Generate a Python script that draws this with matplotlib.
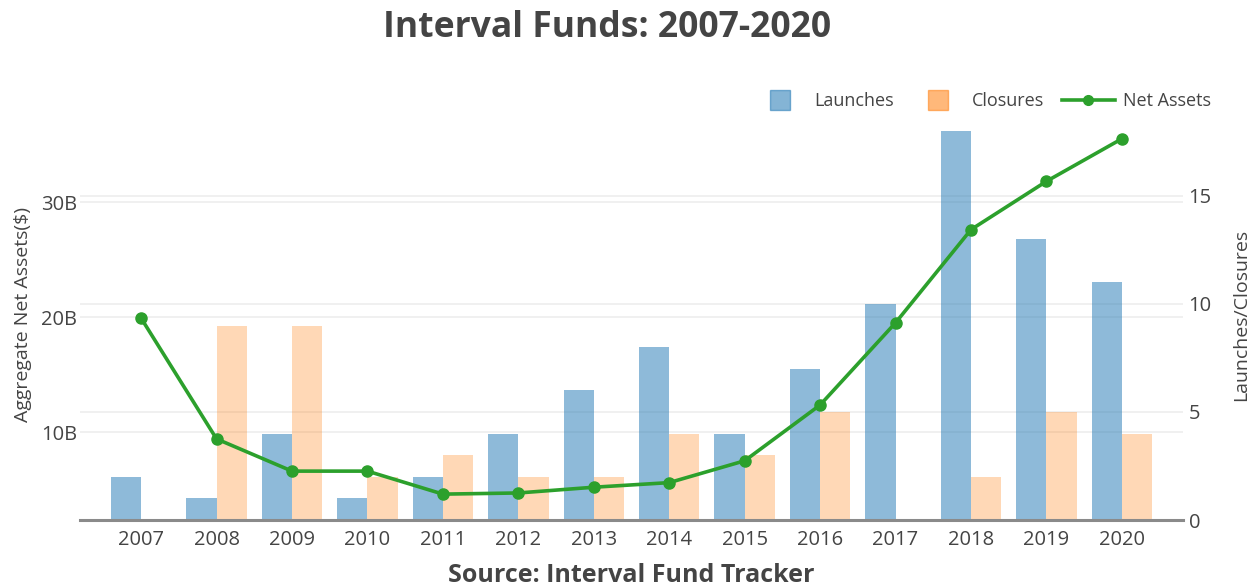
import matplotlib
matplotlib.use("Agg")
import matplotlib.pyplot as plt
from matplotlib.lines import Line2D
import numpy as np

plt.rcParams['font.family'] = ['Open Sans', 'DejaVu Sans']

# Data
years = ['2007', '2008', '2009', '2010', '2011', '2012', '2013',
         '2014', '2015', '2016', '2017', '2018', '2019', '2020']
launches = [2, 1, 4, 1, 2, 4, 6, 8, 4, 7, 10, 18, 13, 11]
closures = [0, 9, 9, 2, 3, 2, 2, 4, 3, 5, 0, 2, 5, 4]
net_assets_b = [19.9, 9.4, 6.6, 6.6, 4.6, 4.7, 5.2, 5.6, 7.5, 12.35,
                19.5, 27.6, 31.8, 35.5]
left_ticks = [10, 20, 30]
left_ticklabels = ['10B', '20B', '30B']
right_ticks = [0, 5, 10, 15]

W, H = 1258, 587
fig = plt.figure(figsize=(W / 100, H / 100), dpi=100)
px_l, px_r, px_t, px_b = 80, 1183, 110, 520
ax = fig.add_axes([px_l / W, (H - px_b) / H, (px_r - px_l) / W, (px_b - px_t) / H])
ax2 = ax.twinx()

text_color = '#444444'
blue = '#1f77b4'
orange = '#ff7f0e'
green = '#2ca02c'
grid_color = '#eeeeee'

x = np.arange(len(years))
bw = 0.4
ax.bar(x - bw / 2, launches, width=bw, color=blue, alpha=0.5, linewidth=0, zorder=2)
ax.bar(x + bw / 2, closures, width=bw, color=orange, alpha=0.3, linewidth=0, zorder=2)

ax2.plot(x, net_assets_b, color=green, lw=2.6, marker='o', markersize=8, zorder=3)

ax.set_xlim(-0.81, 13.81)
ax.set_ylim(0, 18.98)
ax2.set_ylim(2.35, 38.0)

# Bar axis on the right, net-asset axis on the left
ax.yaxis.tick_right()
ax.yaxis.set_label_position('right')
ax2.yaxis.tick_left()
ax2.yaxis.set_label_position('left')

ax.set_yticks(right_ticks)
ax.set_yticklabels([str(t) for t in right_ticks])
ax2.set_yticks(left_ticks)
ax2.set_yticklabels(left_ticklabels)
ax.set_xticks(x)
ax.set_xticklabels(years)

for a in (ax, ax2):
    for s in a.spines.values():
        s.set_visible(False)
ax.spines['bottom'].set_visible(True)
ax.spines['bottom'].set_color('#8a8a8a')
ax.spines['bottom'].set_linewidth(2.2)

ax.tick_params(axis='x', length=0, pad=7, labelsize=14.5, labelcolor=text_color)
ax.tick_params(axis='y', length=0, pad=4, labelsize=14.5, labelcolor=text_color)
ax2.tick_params(axis='y', length=0, pad=2, labelsize=14.5, labelcolor=text_color)

# Gridlines of both scales sit beneath the bars
for t in right_ticks[1:]:
    ax.axhline(t, color=grid_color, lw=1.2, zorder=0)
for t in left_ticks:
    ax.add_line(Line2D([0, 1], [t, t], transform=ax2.get_yaxis_transform(),
                       color=grid_color, lw=1.2, zorder=0))

ax2.set_ylabel('Aggregate Net Assets($)', fontsize=14, color=text_color)
ax.set_ylabel('Launches/Closures', fontsize=14, color=text_color)
ax2.yaxis.set_label_coords(-(px_l - 32) / (px_r - px_l), 0.5)
ax.yaxis.set_label_coords(1 + (1232 - px_r) / (px_r - px_l), 0.5)

fig.text(607 / W, 1 - 28 / H, 'Interval Funds: 2007-2020', ha='center', va='center',
         fontsize=25.6, fontweight='bold', color=text_color)
fig.text((px_l + px_r) / 2 / W, 1 - 576 / H, 'Source: Interval Fund Tracker',
         ha='center', va='center', fontsize=18, fontweight='bold', color=text_color)

handles = [
    Line2D([], [], color=blue, alpha=0.55, marker='s', markersize=15, linestyle='none'),
    Line2D([], [], color=orange, alpha=0.55, marker='s', markersize=15, linestyle='none'),
    Line2D([], [], color=green, lw=2.6, marker='o', markersize=7),
]
leg = fig.legend(handles, ['Launches', 'Closures', 'Net Assets'], ncol=3,
                 loc='center right', bbox_to_anchor=(1218 / W, 1 - 101 / H),
                 frameon=False, fontsize=13, handlelength=2.9, handletextpad=0.45,
                 columnspacing=1.0, labelcolor=text_color, borderaxespad=0)

fig.savefig('out.png', dpi=100)
